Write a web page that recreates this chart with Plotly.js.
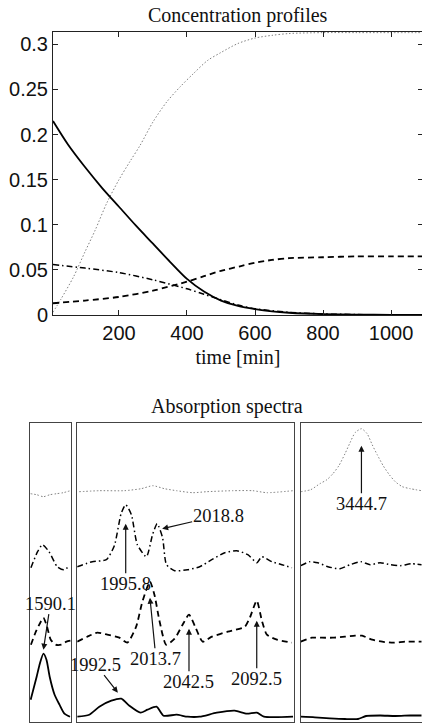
<!DOCTYPE html>
<html>
<head>
<meta charset="utf-8">
<script src="https://cdn.plot.ly/plotly-3.0.1.min.js"></script>
<style>
html,body{margin:0;padding:0;overflow:hidden;background:#fff;}
#chart{width:423px;height:725px;}
</style>
</head>
<body>
<div id="chart"></div>
<script>
// ---------- Concentration profiles (time in min) ----------
const solidT = [6, 50, 100, 150, 200, 250, 300, 350, 400, 450, 500, 550, 600, 650, 700, 800, 900, 1000, 1094];
const solidC = [0.215, 0.189, 0.164, 0.141, 0.120, 0.099, 0.079, 0.059, 0.040, 0.026, 0.016, 0.010, 0.0065, 0.004, 0.0025, 0.001, 0.0004, 0.0002, 0.0001];

const dottedT = [6, 30, 66, 100, 130, 164, 200, 232, 262, 300, 340, 380, 420, 460, 500, 550, 600, 650, 700, 800, 900, 1000, 1094];
const dottedC = [0.003, 0.018, 0.042, 0.070, 0.094, 0.124, 0.150, 0.170, 0.188, 0.214, 0.236, 0.253, 0.268, 0.282, 0.291, 0.301, 0.307, 0.310, 0.312, 0.313, 0.313, 0.313, 0.313];

const dashedT = [6, 100, 200, 300, 400, 450, 500, 556, 600, 650, 700, 800, 900, 1000, 1094];
const dashedC = [0.013, 0.016, 0.020, 0.027, 0.037, 0.043, 0.049, 0.054, 0.058, 0.061, 0.063, 0.064, 0.065, 0.065, 0.065];

const dashdotT = [6, 100, 200, 300, 400, 450, 500, 550, 600, 700, 800, 900, 1000, 1094];
const dashdotC = [0.056, 0.052, 0.047, 0.039, 0.029, 0.023, 0.017, 0.011, 0.007, 0.003, 0.0012, 0.0005, 0.0002, 0.0001];

// ---------- Absorption spectra (wavenumber, offset absorbance) ----------
// window 1: 1580-1611
const p1SolidW = [1580.5, 1585.0, 1587.4, 1590.1, 1592.4, 1594.8, 1598.5, 1602.2, 1605.9, 1610.1];
const p1SolidA = [0.22, 0.45, 0.58, 0.68, 0.62, 0.45, 0.27, 0.17, 0.08, 0.05];
const p1DashedW = [1580.7, 1584.4, 1588.1, 1590.1, 1592.6, 1595.6, 1599.3, 1603.7, 1607.4, 1610.4];
const p1DashedA = [0.77, 0.90, 1.00, 1.04, 0.96, 0.82, 0.77, 0.77, 0.80, 0.81];
const p1DashdotW = [1580.7, 1585.7, 1589.4, 1594.3, 1600.5, 1605.4, 1609.1];
const p1DashdotA = [1.54, 1.70, 1.77, 1.70, 1.55, 1.52, 1.55];
const p1DottedW = [1580.5, 1585.0, 1590.1, 1595.0, 1600.0, 1605.0, 1610.4];
const p1DottedA = [2.28, 2.27, 2.25, 2.27, 2.28, 2.29, 2.31];

// window 2: 1960-2120
const p2SolidW = [1960.0, 1968.9, 1976.3, 1985.2, 1992.5, 1998.5, 2006.7, 2011.9, 2018.5, 2023.7, 2033.3, 2041.5, 2050.4, 2063.0, 2076.3, 2085.2, 2092.6, 2097.8, 2119.3];
const p2SolidA = [0.05, 0.07, 0.15, 0.21, 0.23, 0.16, 0.09, 0.12, 0.15, 0.06, 0.07, 0.05, 0.05, 0.09, 0.11, 0.08, 0.09, 0.05, 0.05];
const p2DashedW = [1960.0, 1967.4, 1974.8, 1982.2, 1991.1, 1997.0, 2003.5, 2008.1, 2013.7, 2017.0, 2020.7, 2025.7, 2031.9, 2037.8, 2042.5, 2047.4, 2052.6, 2059.3, 2071.1, 2083.7, 2087.4, 2092.5, 2096.3, 2100.0, 2107.4, 2118.5];
const p2DashedA = [0.80, 0.85, 0.89, 0.87, 0.84, 0.79, 0.95, 1.20, 1.40, 1.27, 1.01, 0.77, 0.83, 0.97, 1.07, 0.94, 0.80, 0.85, 0.90, 0.95, 1.04, 1.21, 1.01, 0.87, 0.82, 0.79];
const p2DashdotW = [1960.0, 1971.1, 1981.5, 1987.4, 1992.4, 1995.8, 2000.0, 2004.4, 2011.1, 2015.6, 2019.0, 2023.0, 2025.9, 2031.9, 2041.5, 2050.4, 2059.3, 2068.9, 2077.8, 2085.9, 2092.6, 2096.3, 2103.7, 2111.1, 2118.5];
const p2DashdotA = [1.55, 1.60, 1.62, 1.76, 2.08, 2.17, 2.07, 1.77, 1.65, 1.87, 1.98, 1.84, 1.57, 1.51, 1.52, 1.55, 1.62, 1.69, 1.71, 1.67, 1.59, 1.65, 1.60, 1.57, 1.54];
const p2DottedW = [1961.5, 1976.3, 1994.8, 2007.2, 2015.8, 2024.4, 2033.3, 2045.2, 2055.6, 2074.8, 2089.6, 2100.0, 2119.3];
const p2DottedA = [2.30, 2.31, 2.31, 2.33, 2.36, 2.33, 2.31, 2.29, 2.30, 2.31, 2.31, 2.29, 2.31];

// window 3: 3400-3490
const p3SolidW = [3400.0, 3410.4, 3421.5, 3432.6, 3442.2, 3448.1, 3458.5, 3469.6, 3480.7, 3488.9];
const p3SolidA = [0.05, 0.044, 0.034, 0.027, 0.027, 0.057, 0.062, 0.057, 0.062, 0.062];
const p3DashedW = [3400.0, 3408.1, 3415.6, 3423.7, 3432.6, 3440.0, 3445.2, 3452.6, 3460.0, 3468.1, 3477.0, 3488.9];
const p3DashedA = [0.80, 0.84, 0.84, 0.84, 0.85, 0.86, 0.86, 0.82, 0.80, 0.79, 0.80, 0.80];
const p3DashdotW = [3400.0, 3406.7, 3412.6, 3420.0, 3428.9, 3436.3, 3444.4, 3451.1, 3458.5, 3465.9, 3473.3, 3481.5, 3488.9];
const p3DashdotA = [1.56, 1.60, 1.59, 1.55, 1.53, 1.57, 1.60, 1.57, 1.59, 1.57, 1.56, 1.58, 1.57];
const p3DottedW = [3400.0, 3407.4, 3414.1, 3419.3, 3423.7, 3428.1, 3432.6, 3436.3, 3440.0, 3444.7, 3448.9, 3452.6, 3456.3, 3460.7, 3465.2, 3469.6, 3474.8, 3480.7, 3488.9];
const p3DottedA = [2.30, 2.32, 2.38, 2.42, 2.48, 2.56, 2.68, 2.79, 2.89, 2.93, 2.88, 2.77, 2.67, 2.56, 2.47, 2.40, 2.35, 2.33, 2.31];

// peak labels
const peakLabels = ['1590.1', '1992.5', '1995.8', '2018.8', '2013.7', '2042.5', '2092.5', '3444.7'];
const peakWin    = [1, 2, 2, 2, 2, 2, 2, 3];
const peakW      = [1590.1, 1990.0, 1995.8, 2022.7, 2013.7, 2042.5, 2092.5, 3444.7];
const peakA      = [0.72, 0.29, 1.98, 1.93, 1.24, 0.93, 1.01, 2.76];
const peakAx     = [7, -22, 0, 56, 6, 0, 0, 0];
const peakAy     = [-46, -28, 60, -13, 61, 53, 58, 58];

// ---------- styles ----------
const BLACK = '#000';
const styles = {
  solid:   {color: BLACK, width: 1.8, dash: 'solid'},
  dashed:  {color: BLACK, width: 1.8, dash: '6px,4px'},
  dashdot: {color: BLACK, width: 1.5, dash: '6px,3px,1.5px,3px'},
  dotted:  {color: '#808080', width: 1, dash: '1.5px,2px'}
};
function tr(x, y, st, xa, ya, smooth) {
  return {x: x, y: y, type: 'scatter', mode: 'lines', xaxis: xa, yaxis: ya,
          line: Object.assign({shape: 'spline', smoothing: smooth}, st), hoverinfo: 'skip', showlegend: false};
}
const data = [
  tr(dottedT, dottedC, styles.dotted, 'x', 'y', 0.8),
  tr(dashdotT, dashdotC, styles.dashdot, 'x', 'y', 0.8),
  tr(dashedT, dashedC, styles.dashed, 'x', 'y', 0.8),
  tr(solidT, solidC, styles.solid, 'x', 'y', 0.8),

  tr(p1DottedW, p1DottedA, styles.dotted, 'x2', 'y2', 0.6),
  tr(p1DashdotW, p1DashdotA, styles.dashdot, 'x2', 'y2', 0.6),
  tr(p1DashedW, p1DashedA, styles.dashed, 'x2', 'y2', 0.6),
  tr(p1SolidW, p1SolidA, styles.solid, 'x2', 'y2', 0.6),

  tr(p2DottedW, p2DottedA, styles.dotted, 'x3', 'y3', 0.6),
  tr(p2DashdotW, p2DashdotA, styles.dashdot, 'x3', 'y3', 0.6),
  tr(p2DashedW, p2DashedA, styles.dashed, 'x3', 'y3', 0.6),
  tr(p2SolidW, p2SolidA, styles.solid, 'x3', 'y3', 0.6),

  tr(p3DottedW, p3DottedA, styles.dotted, 'x4', 'y4', 0.6),
  tr(p3DashdotW, p3DashdotA, styles.dashdot, 'x4', 'y4', 0.6),
  tr(p3DashedW, p3DashedA, styles.dashed, 'x4', 'y4', 0.6),
  tr(p3SolidW, p3SolidA, styles.solid, 'x4', 'y4', 0.6)
];

const W = 423, H = 725;
const serif = 'Liberation Serif, Times New Roman, serif';
const sans = 'Liberation Sans, Arial, sans-serif';

function boxAxis(extra) {
  return Object.assign({showline: true, mirror: true, linecolor: '#444', linewidth: 1.2,
    showgrid: false, zeroline: false, ticks: '', showticklabels: false, fixedrange: true}, extra);
}

const topDomY = [1 - 315 / H, 1 - 32 / H];
const botDomY = [1 - 721.7 / H, 1 - 422.7 / H];
const specRange = [0, 2.99];

const annotations = [
  {text: 'Concentration profiles', xref: 'paper', yref: 'paper', x: 238 / W, y: 1 - 15 / H,
   xanchor: 'center', yanchor: 'middle', showarrow: false, font: {family: serif, size: 20, color: '#111'}},
  {text: 'Absorption spectra', xref: 'paper', yref: 'paper', x: 226.5 / W, y: 1 - 406 / H,
   xanchor: 'center', yanchor: 'middle', showarrow: false, font: {family: serif, size: 20, color: '#111'}}
];
for (let i = 0; i < peakLabels.length; i++) {
  const k = peakWin[i] + 1;
  annotations.push({
    text: peakLabels[i], xref: 'x' + k, yref: 'y' + k, x: peakW[i], y: peakA[i],
    ax: peakAx[i], ay: peakAy[i], showarrow: true, arrowhead: 2, arrowsize: 1,
    arrowwidth: 1.2, arrowcolor: '#111', standoff: 0, borderpad: 0,
    font: {family: serif, size: 18.5, color: '#111'}
  });
}

const layout = {
  width: W, height: H,
  margin: {l: 0, r: 0, t: 0, b: 0, pad: 0},
  paper_bgcolor: '#fff', plot_bgcolor: '#fff',
  showlegend: false,
  xaxis: {domain: [53 / W, 1], range: [6, 1094], anchor: 'y',
    showline: true, mirror: 'ticks', linecolor: '#222', linewidth: 1,
    ticks: 'inside', ticklen: 5, tickcolor: '#222', tickvals: [200, 400, 600, 800, 1000],
    showgrid: false, zeroline: false, fixedrange: true,
    tickfont: {family: sans, size: 20, color: '#111'},
    title: {text: 'time [min]', font: {family: serif, size: 20, color: '#111'}, standoff: 6}},
  yaxis: {domain: topDomY, range: [0, 0.3137], anchor: 'x',
    showline: true, mirror: 'ticks', linecolor: '#222', linewidth: 1,
    ticks: 'inside', ticklen: 5, tickcolor: '#222', tickvals: [0, 0.05, 0.1, 0.15, 0.2, 0.25, 0.3],
    showgrid: false, zeroline: false, fixedrange: true,
    tickfont: {family: sans, size: 20, color: '#111'}},

  xaxis2: boxAxis({domain: [30 / W, 71.2 / W], range: [1580, 1611], anchor: 'y2'}),
  yaxis2: boxAxis({domain: botDomY, range: specRange, anchor: 'x2'}),
  xaxis3: boxAxis({domain: [77.2 / W, 294 / W], range: [1960, 2120], anchor: 'y3'}),
  yaxis3: boxAxis({domain: botDomY, range: specRange, anchor: 'x3'}),
  xaxis4: boxAxis({domain: [300.7 / W, 1], range: [3400, 3490], anchor: 'y4'}),
  yaxis4: boxAxis({domain: botDomY, range: specRange, anchor: 'x4'}),

  annotations: annotations
};

Plotly.newPlot('chart', data, layout, {staticPlot: true, displayModeBar: false});
</script>
</body>
</html>
